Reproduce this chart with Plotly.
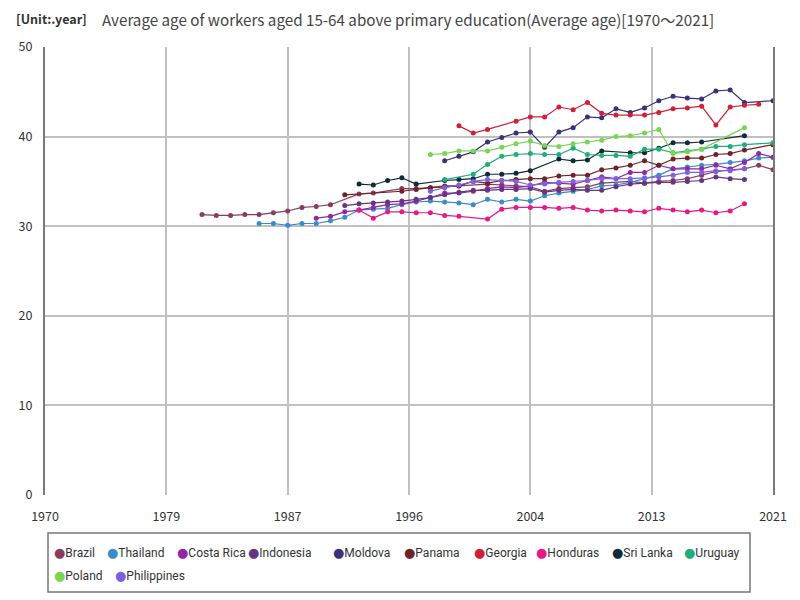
import plotly.graph_objects as go

# Years on the x axis (1981-2021), None = no survey that year
years = [1981, 1982, 1983, 1984, 1985, 1986, 1987, 1988, 1989, 1990,
         1991, 1992, 1993, 1994, 1995, 1996, 1997, 1998, 1999, 2000,
         2001, 2002, 2003, 2004, 2005, 2006, 2007, 2008, 2009, 2010,
         2011, 2012, 2013, 2014, 2015, 2016, 2017, 2018, 2019, 2020, 2021]

N = None
brazil = [31.3, 31.2, 31.2, 31.3, 31.3, 31.5, 31.7, 32.1, 32.2, 32.4,
          N, 33.6, 33.7, N, 34.2, 34.2, 34.3, 34.5, 34.5, N,
          34.7, 34.6, 34.5, 34.4, 33.9, 34.2, 34.3, 34.4, 34.8, N,
          35.0, 34.8, 35.0, 35.1, 35.3, 35.7, 36.1, 36.3, 36.4, 36.8, 36.3]
thailand = [N, N, N, N, 30.3, 30.3, 30.1, 30.3, 30.3, 30.6,
            31.0, 31.8, 31.9, 32.0, 32.4, 32.7, 32.8, 32.7, 32.6, 32.4,
            33.0, 32.7, 33.0, 32.8, 33.4, 33.7, 33.9, 34.1, 34.5, 34.6,
            34.9, 35.3, 35.7, 36.4, 36.6, 36.8, 36.9, 37.1, 37.3, 37.6, 37.7]
costa_rica = [N, N, N, N, N, N, N, N, 30.9, 31.1,
              31.6, 31.8, 32.1, 32.4, 32.5, 32.8, 33.2, 33.7, 33.7, 33.9,
              34.2, 34.4, 34.3, 34.5, 34.9, 34.8, 34.7, 35.1, 35.5, 35.3,
              36.0, 36.0, 36.8, 36.4, 36.4, 36.4, 36.8, 36.4, 37.1, 38.1, 37.7]
indonesia = [N, N, N, N, N, N, N, N, N, N,
             32.3, 32.5, 32.6, 32.7, 32.8, 33.0, 33.2, 33.5, 33.8, 34.0,
             34.0, 34.1, 34.1, 34.2, 33.8, 34.0, 34.1, 34.0, 34.0, 34.4,
             34.7, 34.8, 34.9, 34.9, 35.0, 35.1, 35.5, 35.3, 35.2, N, N]
moldova = [N, N, N, N, N, N, N, N, N, N,
           N, N, N, N, N, N, N, 37.3, 37.8, 38.3,
           39.4, 39.9, 40.4, 40.5, 38.8, 40.5, 41.0, 42.2, 42.1, 43.1,
           42.7, 43.2, 44.0, 44.5, 44.3, 44.2, 45.1, 45.2, 43.8, N, 44.0]
panama = [N, N, N, N, N, N, N, N, N, N,
          33.5, N, N, N, 33.9, 34.1, 34.3, 34.4, 34.5, 35.0,
          34.8, 35.1, 35.2, 35.3, 35.3, 35.6, 35.7, 35.7, 36.3, 36.5,
          36.8, 37.3, 36.8, 37.5, 37.6, 37.6, 38.0, 38.1, 38.5, N, 39.1]
georgia = [N, N, N, N, N, N, N, N, N, N,
           N, N, N, N, N, N, N, N, 41.2, 40.4,
           40.8, N, 41.7, 42.2, 42.2, 43.3, 43.0, 43.8, 42.6, 42.4,
           42.4, 42.4, 42.7, 43.1, 43.2, 43.4, 41.3, 43.3, 43.5, 43.6, N]
honduras = [N, N, N, N, N, N, N, N, N, N,
            N, 31.8, 30.9, 31.6, 31.6, 31.5, 31.5, 31.2, 31.1, N,
            30.8, 31.9, 32.1, 32.1, 32.1, 32.0, 32.1, 31.8, 31.7, 31.8,
            31.7, 31.6, 32.0, 31.8, 31.6, 31.8, 31.5, 31.7, 32.5, N, N]
sri_lanka = [N, N, N, N, N, N, N, N, N, N,
             N, 34.7, 34.6, 35.1, 35.4, 34.7, N, 35.1, 35.2, 35.3,
             35.8, 35.8, 35.9, 36.2, N, 37.5, 37.3, 37.4, 38.4, N,
             38.2, 38.2, 38.7, 39.3, 39.3, 39.4, N, N, 40.1, N, N]
uruguay = [N, N, N, N, N, N, N, N, N, N,
           N, N, N, N, N, N, N, 35.2, N, 35.8,
           36.9, 37.8, 38.0, 38.1, 38.0, 38.0, 38.7, 38.0, 37.9, 37.9,
           37.8, 38.6, 38.6, 38.2, 38.4, 38.6, 38.9, 38.9, 39.1, N, 39.3]
poland = [N, N, N, N, N, N, N, N, N, N,
          N, N, N, N, N, N, 38.0, 38.1, 38.4, 38.4,
          38.4, 38.8, 39.2, 39.5, 39.0, 38.9, 39.2, 39.4, 39.6, 40.0,
          40.1, 40.4, 40.8, 38.1, 38.3, 38.6, N, N, 41.0, N, N]
philippines = [N, N, N, N, N, N, N, N, N, N,
               N, N, N, N, N, N, 33.9, 34.3, 34.6, 35.0,
               35.2, 35.1, 35.0, 34.6, 34.7, 34.9, 35.0, 35.1, 35.3, 35.3,
               35.3, 35.4, 35.5, 35.7, 36.0, 36.0, 36.2, 36.2, 36.4, N, N]

countries = ["Brazil", "Thailand", "Costa Rica", "Indonesia", "Moldova", "Panama",
             "Georgia", "Honduras", "Sri Lanka", "Uruguay", "Poland", "Philippines"]
series = [brazil, thailand, costa_rica, indonesia, moldova, panama,
          georgia, honduras, sri_lanka, uruguay, poland, philippines]
colors = ["#8a3b60", "#3a8bc8", "#8f27a6", "#65357f", "#3c2f7c", "#6e2329",
          "#cf2039", "#e6198a", "#112a3b", "#1fae7b", "#79d653", "#7b61e2"]

tick_years = [1970, 1978.5, 1987, 1995.5, 2004, 2012.5, 2021]
tick_text = ["1970", "1979", "1987", "1996", "2004", "2013", "2021"]

# page is shown with an 8px body margin, so the figure is 792x592
W, H = 792, 592
L, R, T, B = 37, 27, 39, 105
PW, PH = W - L - R, H - T - B


def paper(px, py):
    # page pixel -> paper coordinates
    return (px - 8 - L) / PW, (H - B - (py - 8)) / PH


fig = go.Figure()
for name, vals, col in zip(countries, series, colors):
    fig.add_trace(go.Scatter(x=years, y=vals, name=name, mode="lines+markers",
                             connectgaps=True, showlegend=False,
                             line=dict(color=col, width=1.2),
                             marker=dict(color=col, size=5)))

font_family = "Noto Sans CJK JP, Noto Sans, sans-serif"

annotations = []
ux, uy = paper(14, 18)
annotations.append(dict(text="<b>[Unit:.year]</b>", x=ux, y=uy, xref="paper", yref="paper",
                        showarrow=False, font=dict(size=12.5, color="#333333"),
                        xanchor="left", yanchor="middle"))
tx, ty = paper(100, 19)
annotations.append(dict(text="Average age of workers aged 15-64 above primary education(Average age)[1970～2021]",
                        x=tx, y=ty, xref="paper", yref="paper", showarrow=False,
                        font=dict(size=15.2, color="#444444"), xanchor="left", yanchor="middle"))

# hand-made legend, laid out like the original one
legend_x = [52, 105, 175, 246, 331, 402, 472, 534, 610, 682, 52, 113]
legend_y = [552, 552, 552, 552, 552, 552, 552, 552, 552, 552, 575, 575]
for name, col, lx, ly in zip(countries, colors, legend_x, legend_y):
    ax_, ay_ = paper(lx, ly)
    annotations.append(dict(
        text=f"<span style='color:{col};font-family:DejaVu Sans;font-size:13px'>●</span>{name}",
        x=ax_, y=ay_, xref="paper", yref="paper", showarrow=False,
        font=dict(family="Roboto, Noto Sans, sans-serif", size=12, color="#333333"),
        xanchor="left", yanchor="middle"))

bx0, by0 = paper(48, 533)
bx1, by1 = paper(750, 592)

fig.update_layout(
    width=W, height=H,
    margin=dict(l=L, r=R, t=T, b=B),
    paper_bgcolor="white", plot_bgcolor="white",
    font=dict(family=font_family, size=12, color="#333333"),
    showlegend=False,
    annotations=annotations,
    shapes=[dict(type="rect", xref="paper", yref="paper", x0=bx0, y0=by0, x1=bx1, y1=by1,
                 line=dict(color="#777777", width=1.5), fillcolor="rgba(0,0,0,0)")],
)

fig.update_xaxes(range=[1970, 2021], tickvals=tick_years, ticktext=tick_text,
                 showgrid=True, gridcolor="#c0c0c0", gridwidth=1.5,
                 zeroline=False, showline=False, ticks="", ticklabelstandoff=12,
                 tickfont=dict(size=12.5, color="#333333"))
fig.update_yaxes(range=[0, 50], dtick=10, showgrid=True, gridcolor="#c0c0c0", gridwidth=1.5,
                 zeroline=False, showline=True, mirror=True, linecolor="#7a7a7a", linewidth=2,
                 ticks="", ticklabelstandoff=8, tickfont=dict(size=12.5, color="#333333"))

fig.write_html("out.html")
